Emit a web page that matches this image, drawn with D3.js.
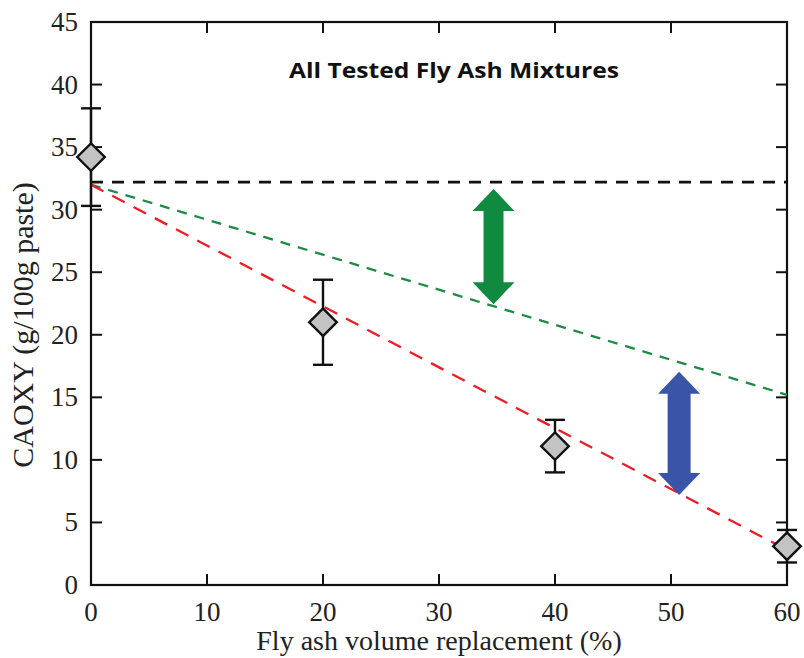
<!DOCTYPE html>
<html>
<head>
<meta charset="utf-8">
<script src="https://cdn.jsdelivr.net/npm/d3@7"></script>
<style>
  body { margin: 0; background: #fff; }
  svg text { font-family: "Liberation Serif", "Times New Roman", serif; fill: #222; }
</style>
</head>
<body>
<div id="app"></div>
<script>
const width = 804;
const height = 658;
const margin = { top: 22, right: 17, bottom: 73, left: 91 };

// measured points: replacement %, CAOXY, error half-width
const replacement = [0, 20, 40, 60];
const caoxy = [34.2, 21.0, 11.1, 3.1];
const caoxyErr = [3.9, 3.4, 2.1, 1.3];

// guide lines [x0, y0, x1, y1]
const baseLine = [0, 32.2, 60, 32.2];
const greenLine = [0, 32.0, 60, 15.2];
const redLine = [0, 32.0, 60, 2.8];

// double arrows: x, top value, bottom value
const greenArrow = [34.7, 31.65, 22.45];
const blueArrow = [50.7, 17.05, 7.2];

const xTicks = [0, 10, 20, 30, 40, 50, 60];
const yTicks = [0, 5, 10, 15, 20, 25, 30, 35, 40, 45];

const svg = d3.select('#app').append('svg')
  .attr('width', width)
  .attr('height', height);

const x = d3.scaleLinear().domain([0, 60]).range([margin.left, width - margin.right]);
const y = d3.scaleLinear().domain([0, 45]).range([height - margin.bottom, margin.top]);

const tickLen = 11;

// frame with inward ticks on all sides
const frame = svg.append('g');
frame.append('rect')
  .attr('x', x(0)).attr('y', y(45))
  .attr('width', x(60) - x(0)).attr('height', y(0) - y(45))
  .attr('fill', 'none').attr('stroke', '#111').attr('stroke-width', 2.2);

const innerX = xTicks.slice(1, -1);
const innerY = yTicks.slice(1, -1);

frame.selectAll('.tb').data(innerX).enter().append('line')
  .attr('x1', d => x(d)).attr('x2', d => x(d))
  .attr('y1', y(0)).attr('y2', y(0) - tickLen)
  .attr('stroke', '#111').attr('stroke-width', 2);
frame.selectAll('.tt').data(innerX).enter().append('line')
  .attr('x1', d => x(d)).attr('x2', d => x(d))
  .attr('y1', y(45)).attr('y2', y(45) + tickLen)
  .attr('stroke', '#111').attr('stroke-width', 2);
frame.selectAll('.tl').data(innerY).enter().append('line')
  .attr('x1', x(0)).attr('x2', x(0) + tickLen)
  .attr('y1', d => y(d)).attr('y2', d => y(d))
  .attr('stroke', '#111').attr('stroke-width', 2);
frame.selectAll('.tr').data(innerY).enter().append('line')
  .attr('x1', x(60)).attr('x2', x(60) - tickLen)
  .attr('y1', d => y(d)).attr('y2', d => y(d))
  .attr('stroke', '#111').attr('stroke-width', 2);

// tick labels
svg.selectAll('.xl').data(xTicks).enter().append('text')
  .attr('x', d => x(d)).attr('y', y(0) + 36)
  .attr('text-anchor', 'middle')
  .style('font-size', '27px')
  .text(d => d);
svg.selectAll('.yl').data(yTicks).enter().append('text')
  .attr('x', x(0) - 13).attr('y', d => y(d) + 9)
  .attr('text-anchor', 'end')
  .style('font-size', '27px')
  .text(d => d);

// axis titles
svg.append('text')
  .attr('x', (x(0) + x(60)) / 2).attr('y', 650)
  .attr('text-anchor', 'middle')
  .style('font-size', '28px')
  .text('Fly ash volume replacement (%)');
svg.append('text')
  .attr('transform', 'translate(33, 325) rotate(-90)')
  .attr('text-anchor', 'middle')
  .style('font-size', '30px')
  .text('CAOXY (g/100g paste)');

// chart title
svg.append('text')
  .attr('x', 454).attr('y', 78)
  .attr('text-anchor', 'middle')
  .attr('textLength', 330)
  .attr('lengthAdjust', 'spacingAndGlyphs')
  .style('font-family', '"Open Sans", Lato, sans-serif')
  .style('font-weight', 700)
  .style('font-size', '22px')
  .style('fill', '#111')
  .text('All Tested Fly Ash Mixtures');

// dashed guide lines
const drawLine = (l, color, dash, w) => svg.append('line')
  .attr('x1', x(l[0])).attr('y1', y(l[1]))
  .attr('x2', x(l[2])).attr('y2', y(l[3]))
  .attr('stroke', color).attr('stroke-width', w)
  .attr('stroke-dasharray', dash);

drawLine(baseLine, '#111', '12,9', 2.6);
drawLine(greenLine, '#1f8a45', '10,8', 2.3);
drawLine(redLine, '#ee1c25', '14,10', 2.3);

// double arrows
const arrowPath = (a, shaftHalf) => {
  const cx = x(a[0]);
  const top = y(a[1]);
  const bot = y(a[2]);
  const headH = 22;
  const headHalf = 21;
  const p = [
    [cx, top],
    [cx + headHalf, top + headH],
    [cx + shaftHalf, top + headH],
    [cx + shaftHalf, bot - headH],
    [cx + headHalf, bot - headH],
    [cx, bot],
    [cx - headHalf, bot - headH],
    [cx - shaftHalf, bot - headH],
    [cx - shaftHalf, top + headH],
    [cx - headHalf, top + headH]
  ];
  return d3.line()(p) + 'Z';
};

svg.append('path').attr('d', arrowPath(greenArrow, 10)).attr('fill', '#0f8a3f');
svg.append('path').attr('d', arrowPath(blueArrow, 11.5)).attr('fill', '#3a55a7');

// error bars and diamonds
const points = replacement.map((r, i) => ({ r, v: caoxy[i], e: caoxyErr[i] }));
const capHalf = 10;

const bars = svg.append('g').attr('stroke', '#111').attr('stroke-width', 2.4);
bars.selectAll('.v').data(points).enter().append('line')
  .attr('x1', d => x(d.r)).attr('x2', d => x(d.r))
  .attr('y1', d => y(d.v + d.e)).attr('y2', d => y(d.v - d.e));
bars.selectAll('.ct').data(points).enter().append('line')
  .attr('x1', d => x(d.r) - capHalf).attr('x2', d => x(d.r) + capHalf)
  .attr('y1', d => y(d.v + d.e)).attr('y2', d => y(d.v + d.e));
bars.selectAll('.cb').data(points).enter().append('line')
  .attr('x1', d => x(d.r) - capHalf).attr('x2', d => x(d.r) + capHalf)
  .attr('y1', d => y(d.v - d.e)).attr('y2', d => y(d.v - d.e));

const diamond = d3.symbol().type(d3.symbolSquare).size(380);
svg.selectAll('.pt').data(points).enter().append('path')
  .attr('d', diamond)
  .attr('transform', d => `translate(${x(d.r)},${y(d.v)}) rotate(45)`)
  .attr('fill', '#c3c3c3')
  .attr('stroke', '#111')
  .attr('stroke-width', 2.4);
</script>
</body>
</html>
